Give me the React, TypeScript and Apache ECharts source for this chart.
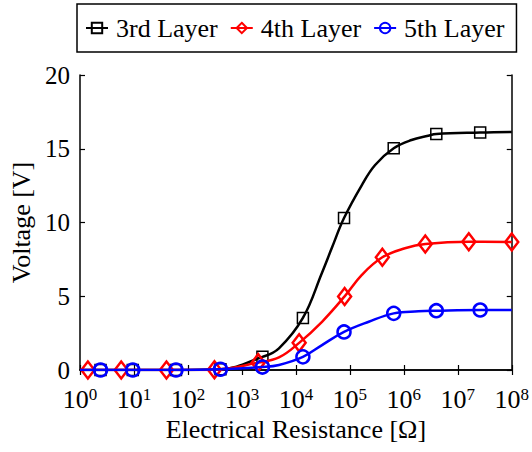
import React, { useEffect, useRef } from "react";
import * as echarts from "echarts";

// Resistance sweep points (Ω) and measured voltages (V) per layer
const resistance3 = [2.4, 9.5, 60, 400, 2400, 13500, 78000, 650000, 4e6, 2.6e7];
const voltage3 = [0, 0, 0, 0.05, 0.89, 3.53, 10.3, 15.03, 16.0, 16.1];
const resistance4 = [1.4, 5.8, 40, 310, 2000, 11500, 80000, 400000, 2.5e6, 1.6e7, 1e8];
const voltage4 = [0, 0, 0, 0.02, 0.5, 1.84, 4.99, 7.64, 8.54, 8.7, 8.68];
const resistance5 = [2.4, 9.5, 60, 400, 2400, 13500, 78000, 650000, 4e6, 2.6e7];
const voltage5 = [0, 0, 0, 0.05, 0.2, 0.89, 2.58, 3.84, 4.02, 4.07];

// Points on the fitted curves between the measurements (no markers)
const fitR3 = [1, 4860, 30500, 46700, 167000, 294000, 1.39e6, 2.83e6, 1e8];
const fitV3 = [0, 1.47, 6.6, 8.3, 12.54, 13.9, 15.59, 15.88, 16.14];
const fitR4 = [1, 4860, 30500, 167000, 1.05e6];
const fitV4 = [0, 0.85, 3.27, 6.45, 8.25];
const fitR5 = [1, 4860, 30500, 224000, 1.86e6, 1e8];
const fitV5 = [0, 0.34, 1.69, 3.27, 3.98, 4.07];

const layerNames = ["3rd Layer", "4th Layer", "5th Layer"];
const layerColors = ["#000000", "#ff0000", "#0000ff"];
const voltageTicks = [0, 5, 10, 15, 20];

const FONT = "'Liberation Serif', 'Times New Roman', serif";

function buildData(xs: number[], ys: number[], fitX: number[], fitY: number[]) {
  const pts: any[] = [];
  xs.forEach((x, i) => pts.push({ value: [x, ys[i]] }));
  fitX.forEach((x, i) => pts.push({ value: [x, fitY[i]], symbol: "none" }));
  pts.sort((a, b) => a.value[0] - b.value[0]);
  return pts;
}

export default function App() {
  const ref = useRef<HTMLDivElement>(null);

  useEffect(() => {
    if (!ref.current) return;
    const chart = echarts.init(ref.current, null, { renderer: "svg" });

    const axisLine = { show: true, lineStyle: { color: "#000", width: 1.5 } };
    const tickInside = { show: true, inside: true, length: 5, lineStyle: { color: "#000", width: 1.2 } };

    const symbols = ["rect", "diamond", "circle"];
    const symbolSizes: any[] = [11, [13, 17], 13];
    const borderWidths = [1.5, 2.5, 2.5];
    const datasets = [
      buildData(resistance3, voltage3, fitR3, fitV3),
      buildData(resistance4, voltage4, fitR4, fitV4),
      buildData(resistance5, voltage5, fitR5, fitV5),
    ];

    const series = layerNames.map((name, i) => ({
      name,
      type: "line",
      xAxisIndex: 0,
      yAxisIndex: 0,
      smooth: 0.4,
      symbol: symbols[i],
      symbolSize: symbolSizes[i],
      showAllSymbol: true,
      data: datasets[i],
      lineStyle: { color: layerColors[i], width: 2.5 },
      itemStyle: { color: "transparent", borderColor: layerColors[i], borderWidth: borderWidths[i] },
      emphasis: { disabled: true },
      z: 2 + i,
    }));

    chart.setOption({
      animation: false,
      backgroundColor: "#fff",
      textStyle: { fontFamily: FONT, color: "#000" },
      legend: {
        data: layerNames,
        left: 77,
        top: 4,
        orient: "horizontal",
        itemWidth: 22,
        itemHeight: 13,
        itemGap: 12,
        padding: [11, 12, 11, 8],
        borderColor: "#000",
        borderWidth: 1.5,
        backgroundColor: "#fff",
        textStyle: { fontFamily: FONT, fontSize: 26, color: "#000", padding: [0, 0, 0, 3] },
      },
      grid: { left: 80, right: 18, top: 75, bottom: 82, containLabel: false },
      xAxis: [
        {
          type: "log",
          logBase: 10,
          min: 1,
          max: 1e8,
          splitNumber: 8,
          position: "bottom",
          name: "Electrical Resistance [Ω]",
          nameLocation: "middle",
          nameGap: 46,
          nameTextStyle: { fontFamily: FONT, fontSize: 26, color: "#000" },
          axisLine,
          axisTick: tickInside,
          splitLine: { show: false },
          minorTick: { show: false },
          axisLabel: {
            margin: 16,
            formatter: (v: number) => `{b|10}{s|${Math.round(Math.log10(v))}}`,
            rich: {
              b: { fontFamily: FONT, fontSize: 26, color: "#000", verticalAlign: "bottom" },
              s: { fontFamily: FONT, fontSize: 17, color: "#000", verticalAlign: "top" },
            },
          },
        },
        {
          type: "log",
          logBase: 10,
          min: 1,
          max: 1e8,
          splitNumber: 8,
          position: "top",
          axisLine,
          axisTick: tickInside,
          axisLabel: { show: false },
          splitLine: { show: false },
        },
      ],
      yAxis: [
        {
          type: "value",
          min: voltageTicks[0],
          max: voltageTicks[voltageTicks.length - 1],
          interval: 5,
          position: "left",
          name: "Voltage [V]",
          nameLocation: "middle",
          nameGap: 41,
          nameRotate: 90,
          nameTextStyle: { fontFamily: FONT, fontSize: 26, color: "#000" },
          axisLine,
          axisTick: tickInside,
          splitLine: { show: false },
          axisLabel: { margin: 10, fontFamily: FONT, fontSize: 25, color: "#000" },
        },
        {
          type: "value",
          min: voltageTicks[0],
          max: voltageTicks[voltageTicks.length - 1],
          interval: 5,
          position: "right",
          axisLine,
          axisTick: tickInside,
          axisLabel: { show: false },
          splitLine: { show: false },
        },
      ],
      series,
    });

    return () => chart.dispose();
  }, []);

  return (
    <div
      ref={ref}
      style={{ position: "absolute", left: 0, top: 0, width: 532, height: 452, background: "#fff" }}
    />
  );
}
